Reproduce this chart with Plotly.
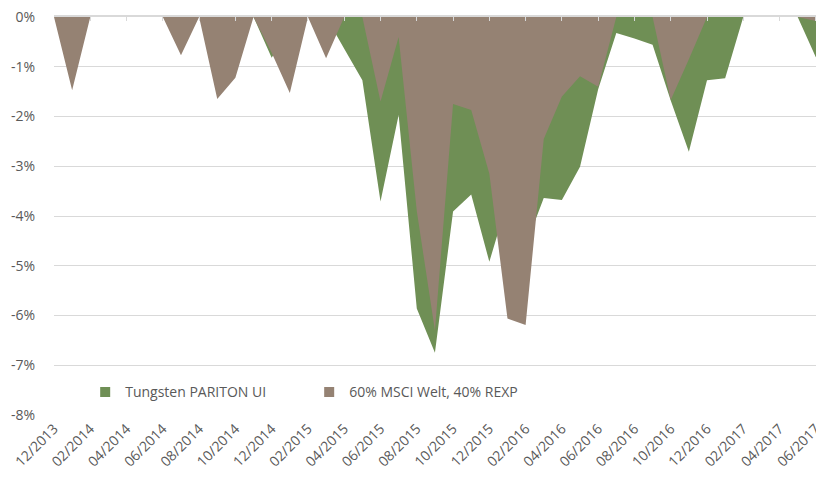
import plotly.graph_objects as go

months = ["12/2013", "01/2014", "02/2014", "03/2014", "04/2014", "05/2014", "06/2014",
          "07/2014", "08/2014", "09/2014", "10/2014", "11/2014", "12/2014", "01/2015",
          "02/2015", "03/2015", "04/2015", "05/2015", "06/2015", "07/2015", "08/2015",
          "09/2015", "10/2015", "11/2015", "12/2015", "01/2016", "02/2016", "03/2016",
          "04/2016", "05/2016", "06/2016", "07/2016", "08/2016", "09/2016", "10/2016",
          "11/2016", "12/2016", "01/2017", "02/2017", "03/2017", "04/2017", "05/2017",
          "06/2017", "07/2017"]

tungsten = [0, 0, 0, 0, 0, 0, 0, 0, 0, 0, 0,
            0, -0.82, -0.2, 0, 0, -0.64, -1.27, -3.71, -1.97, -5.86,
            -6.75, -3.91, -3.57, -4.92, -3.7, -4.6, -3.64, -3.68, -3.01, -1.45,
            -0.32, -0.43, -0.56, -1.68, -2.71, -1.27, -1.23, 0, 0, 0,
            0, -0.81, 0]

benchmark = [0, -1.47, 0, 0, 0, 0, 0, -0.77, 0, -1.65, -1.22,
             0, -0.72, -1.53, 0, -0.83, 0, 0, -1.70, -0.40, -3.9,
             -6.3, -1.75, -1.87, -3.15, -6.06, -6.19, -2.45, -1.60, -1.19, -1.40,
             0, 0, 0, -1.67, -0.85, 0, 0, 0, 0, 0,
             0, -0.08, 0]

series_names = ["Tungsten PARITON UI", "60% MSCI Welt, 40% REXP"]
colors = ["#6f8f55", "#958273"]

x_tick_labels = months[0:43:2]
y_tick_vals = [0, -1, -2, -3, -4, -5, -6, -7, -8]
y_tick_text = ["0%", "-1%", "-2%", "-3%", "-4%", "-5%", "-6%", "-7%", "-8%"]

FONT = "Open Sans"
GREY = "#595959"

fig = go.Figure()
for vals, col in zip([tungsten, benchmark], colors):
    fig.add_trace(go.Scatter(x=months, y=vals, mode="none", fill="tozeroy",
                             fillcolor=col, showlegend=False, hoverinfo="skip"))

# legend entries
for name, col in zip(series_names, colors):
    fig.add_trace(go.Scatter(x=[None], y=[None], mode="markers", name=name,
                             marker=dict(symbol="square", size=10, color=col)))

# invisible trace for the top (zero) category axis
fig.add_trace(go.Scatter(x=months, y=tungsten, xaxis="x2", mode="lines",
                         line=dict(width=0), opacity=0, showlegend=False,
                         hoverinfo="skip"))

# the page body has an 8px margin, so the figure is sized to fit the window
fig.update_layout(
    width=816, height=475,
    margin=dict(l=46, r=0, t=9, b=68),
    paper_bgcolor="white", plot_bgcolor="white",
    font=dict(family=FONT, size=14, color=GREY),
    xaxis=dict(type="category", range=[0, 42.45], tickmode="array",
               tickvals=x_tick_labels, ticktext=x_tick_labels, tickangle=-45,
               showgrid=False, showline=False, ticks="", zeroline=False,
               automargin=False, ticklabelstandoff=2, ticklabeloverflow="allow",
               tickfont=dict(size=14, color=GREY)),
    xaxis2=dict(type="category", overlaying="x", side="top", anchor="y",
                range=[0, 42.45], tickmode="array", tickvals=x_tick_labels,
                showticklabels=False, ticks="inside", ticklen=4,
                tickcolor="#d9d9d9", tickwidth=1.3, showline=True,
                linecolor="#d9d9d9", linewidth=1.5, showgrid=False,
                automargin=False),
    yaxis=dict(range=[-8, 0], tickmode="array", tickvals=y_tick_vals,
               ticktext=y_tick_text, showgrid=True, gridcolor="#d9d9d9",
               gridwidth=1.3, zeroline=False, showline=False, ticks="",
               automargin=False, ticklabeloverflow="allow",
               ticklabelstandoff=18, tickfont=dict(size=14, color=GREY)),
    legend=dict(orientation="h", x=0.0405, y=0.057, xanchor="left", yanchor="middle",
                font=dict(size=14, color=GREY), bgcolor="rgba(0,0,0,0)",
                entrywidth=179, itemclick=False),
    showlegend=True,
)

fig.write_html("out.html")
